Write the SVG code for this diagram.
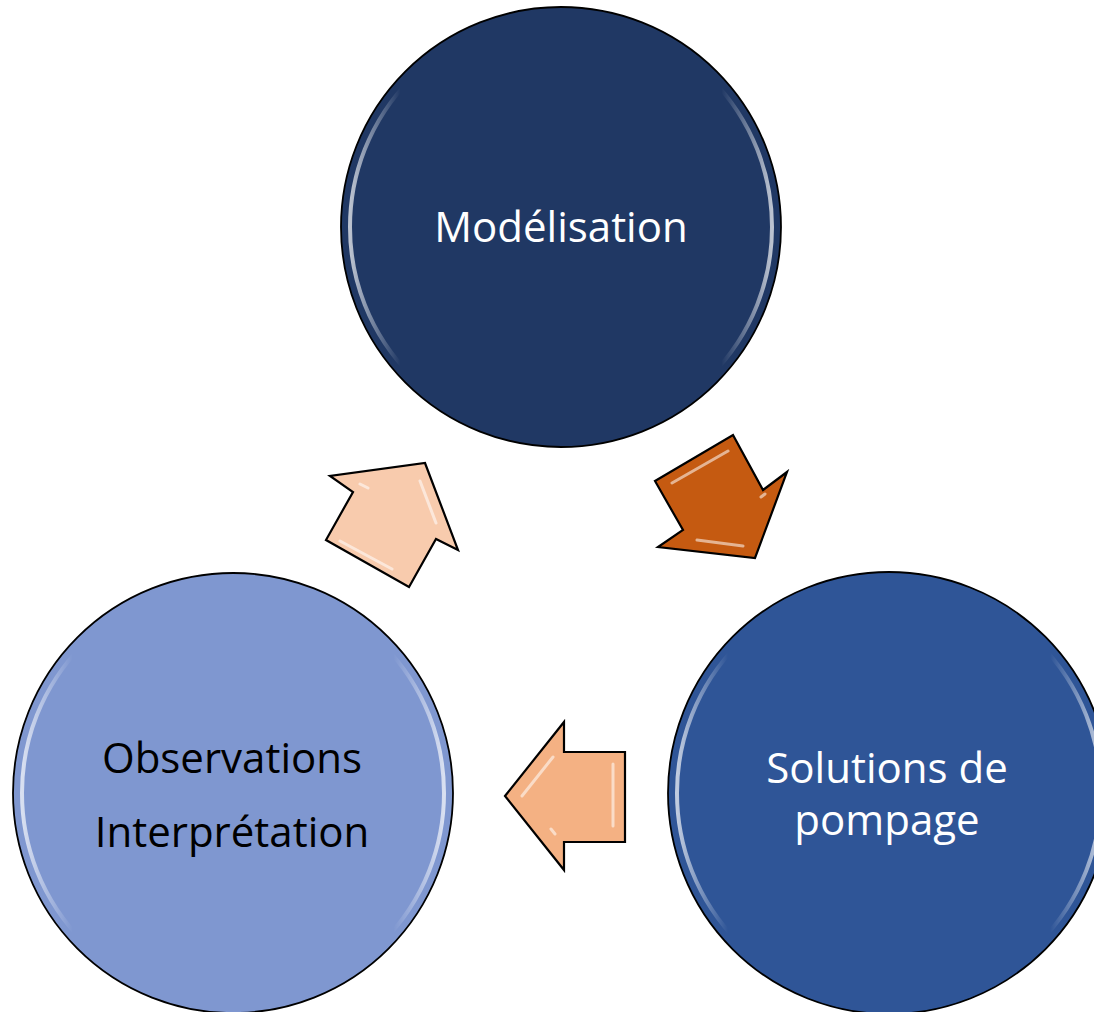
<svg xmlns="http://www.w3.org/2000/svg" width="1094" height="1012" viewBox="0 0 1094 1012">
  <defs>
    <linearGradient id="rim" x1="0" y1="0" x2="1" y2="1">
      <stop offset="0" stop-color="#ffffff" stop-opacity="0"/>
      <stop offset="0.2" stop-color="#ffffff" stop-opacity="0.75"/>
      <stop offset="0.4" stop-color="#ffffff" stop-opacity="0"/>
      <stop offset="0.6" stop-color="#ffffff" stop-opacity="0"/>
      <stop offset="0.8" stop-color="#ffffff" stop-opacity="0.75"/>
      <stop offset="1" stop-color="#ffffff" stop-opacity="0"/>
    </linearGradient>
    <linearGradient id="rimH" x1="0" y1="0" x2="1" y2="0">
      <stop offset="0" stop-color="#ffffff" stop-opacity="0.7"/>
      <stop offset="0.12" stop-color="#ffffff" stop-opacity="0"/>
      <stop offset="0.88" stop-color="#ffffff" stop-opacity="0"/>
      <stop offset="1" stop-color="#ffffff" stop-opacity="0.7"/>
    </linearGradient>
  </defs>
  <style>
    .disc { stroke: #000000; stroke-width: 1.8; }
    .rim { fill: none; stroke: url(#rimH); stroke-width: 4; }
    .lbl { font-family: "Open Sans", "Noto Sans", "Liberation Sans", sans-serif; font-size: 42px; text-anchor: middle; }
    .w { fill: #ffffff; }
    .k { fill: #000000; }
    .arrow { stroke: #000000; stroke-width: 2.2; stroke-linejoin: miter; }
    .gloss { fill: none; stroke: #ffffff; stroke-opacity: 0.55; stroke-width: 3; stroke-linecap: round; }
  </style>
  <rect width="1094" height="1012" fill="#ffffff"/>

  <g id="node-modelisation">
    <circle class="disc" cx="561" cy="227" r="220" fill="#203864"/>
    <circle class="rim" cx="561" cy="227" r="211"/>
    <text class="lbl w" x="561" y="242">Modélisation</text>
  </g>

  <g id="node-solutions">
    <circle class="disc" cx="889" cy="793" r="221" fill="#2F5597"/>
    <circle class="rim" cx="889" cy="793" r="212"/>
    <text class="lbl w" x="887" y="783">Solutions de</text>
    <text class="lbl w" x="887" y="835">pompage</text>
  </g>

  <g id="node-observations">
    <circle class="disc" cx="233" cy="793" r="220" fill="#7F97D0"/>
    <circle class="rim" cx="233" cy="793" r="211"/>
    <text class="lbl k" x="232" y="773">Observations</text>
    <text class="lbl k" x="232" y="847">Interprétation</text>
  </g>

  <g id="connectors">
    <g id="arrow-model-to-solutions">
      <polygon class="arrow" fill="#C55A11" points="655,481 733,435 763,490 787,472 755,558 658,547 683,530"/>
      <path class="gloss" d="M672,483 L728,451 M697,540 L743,546 M761,497 L765,494"/>
    </g>
    <g id="arrow-solutions-to-observations">
      <polygon class="arrow" fill="#F4B183" points="505,796 564,722 564,752 625,752 625,842 564,842 564,870"/>
      <path class="gloss" d="M522,796 L553,757 M613,764 L613,826 M551,829 L555,834"/>
    </g>
    <g id="arrow-observations-to-model">
      <polygon class="arrow" fill="#F8CBAD" points="425,463 458,550 436,539 409,587 326,540 353,492 330,476"/>
      <path class="gloss" d="M420,481 L436,523 M340,541 L392,569 M360,484 L368,488"/>
    </g>
  </g>
</svg>
